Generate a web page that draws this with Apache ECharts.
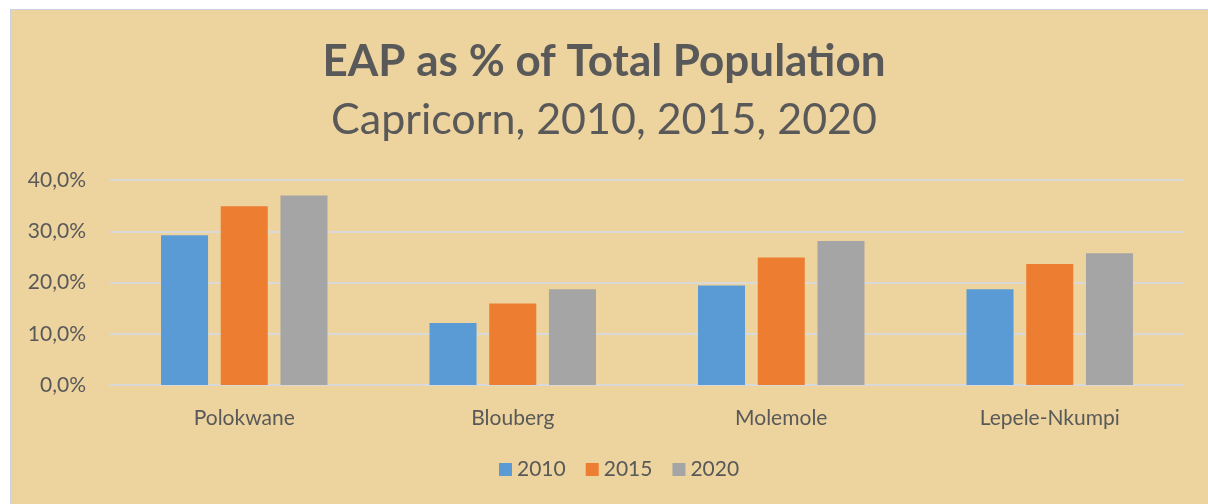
<!DOCTYPE html>
<html>
<head>
<meta charset="utf-8">
<script src="https://cdn.jsdelivr.net/npm/echarts@6/dist/echarts.min.js"></script>
<style>
  html, body { margin: 0; padding: 0; background: #fff; }
  #wrap { position: relative; width: 1208px; height: 504px; overflow: hidden; }
  #bg { position: absolute; left: 10px; top: 9px; right: 0; bottom: 0;
        background: #EDD49E; border-left: 1px solid #C9D0E0; border-top: 1px solid #C9D0E0; }
  #chart { position: absolute; left: 0; top: 0; width: 1208px; height: 504px; }
</style>
</head>
<body>
<div id="wrap">
  <div id="bg"></div>
  <div id="chart"></div>
</div>
<script>
var categories = ['Polokwane', 'Blouberg', 'Molemole', 'Lepele-Nkumpi'];
var years = ['2010', '2015', '2020'];
var eap2010 = [29.2, 12.1, 19.4, 18.7];
var eap2015 = [34.9, 15.9, 24.9, 23.6];
var eap2020 = [37.0, 18.7, 28.1, 25.7];
var colors = ['#5B9BD5', '#ED7D31', '#A5A5A5'];

var chart = echarts.init(document.getElementById('chart'));
var textColor = '#595959';
var font = 'Lato';

chart.setOption({
  backgroundColor: 'transparent',
  animation: false,
  color: colors,
  title: [
    {
      text: 'EAP as % of Total Population',
      left: 'center', top: 35,
      textStyle: { fontFamily: font, fontWeight: 'bold', fontSize: 44, color: textColor }
    },
    {
      text: 'Capricorn, 2010, 2015, 2020',
      left: 'center', top: 94,
      textStyle: { fontFamily: font, fontWeight: 'normal', fontSize: 43, color: textColor }
    }
  ],
  legend: {
    data: years,
    bottom: 19,
    left: 494,
    itemWidth: 13,
    itemHeight: 13,
    itemGap: 20,
    icon: 'rect',
    textStyle: { fontFamily: font, fontSize: 21, color: textColor }
  },
  grid: { left: 110, right: 24, top: 180, bottom: 119, containLabel: false },
  xAxis: {
    type: 'category',
    data: categories,
    axisLine: { show: false },
    axisTick: { show: false },
    axisLabel: { margin: 23, fontFamily: font, fontSize: 21, color: textColor }
  },
  yAxis: {
    type: 'value',
    min: 0, max: 40, interval: 10,
    axisLine: { show: false },
    axisTick: { show: false },
    splitLine: { lineStyle: { color: '#D9D9D9', width: 2 } },
    axisLabel: {
      margin: 24, fontFamily: font, fontSize: 21, color: textColor,
      formatter: function (v) { return v.toFixed(1).replace('.', ',') + '%'; }
    }
  },
  series: [
    { name: years[0], type: 'bar', data: eap2010, barGap: '27%', barCategoryGap: '38%' },
    { name: years[1], type: 'bar', data: eap2015, barGap: '27%', barCategoryGap: '38%' },
    { name: years[2], type: 'bar', data: eap2020, barGap: '27%', barCategoryGap: '38%' }
  ]
});
</script>
</body>
</html>
